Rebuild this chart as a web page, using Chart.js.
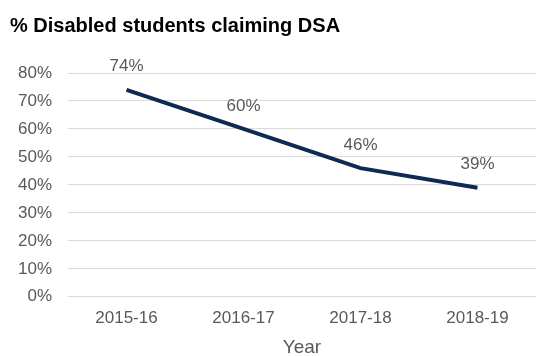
<!DOCTYPE html>
<html>
<head>
<meta charset="utf-8">
<script src="https://cdn.jsdelivr.net/npm/chart.js@4/dist/chart.umd.min.js"></script>
<style>
  html, body { margin: 0; padding: 0; background: #fff; }
  #wrap { width: 536px; height: 356px; }
</style>
</head>
<body>
<div id="wrap"><canvas id="dsaChart" width="536" height="356"></canvas></div>
<script>
// Datos del gráfico
const years = ['2015-16', '2016-17', '2017-18', '2018-19'];
const dsaShare = [74, 60, 46, 39];
const yTicks = [0, 10, 20, 30, 40, 50, 60, 70, 80];

const grey = '#595959';
const fontFamily = '"Liberation Sans", Arial, sans-serif';

// Etiquetas de valor encima de cada punto
const valueLabels = {
    id: 'valueLabels',
    afterDatasetsDraw(chart) {
        const ctx = chart.ctx;
        const meta = chart.getDatasetMeta(0);
        ctx.save();
        ctx.font = '17px ' + fontFamily;
        ctx.fillStyle = grey;
        ctx.textAlign = 'center';
        ctx.textBaseline = 'middle';
        meta.data.forEach((pt, i) => {
            ctx.fillText(dsaShare[i] + '%', pt.x, pt.y - 23);
        });
        ctx.restore();
    }
};

new Chart(document.getElementById('dsaChart'), {
    type: 'line',
    data: {
        labels: years,
        datasets: [{
            data: dsaShare,
            borderColor: '#0c2a53',
            borderWidth: 4,
            pointRadius: 0,
            tension: 0,
            fill: false
        }]
    },
    options: {
        responsive: false,
        animation: false,
        layout: { padding: { left: 10, right: 0, top: 0, bottom: -3 } },
        plugins: {
            legend: { display: false },
            tooltip: { enabled: false },
            title: {
                display: true,
                text: '% Disabled students claiming DSA',
                align: 'start',
                color: '#000',
                font: { family: fontFamily, size: 20, weight: 'bold' },
                padding: { top: 14, bottom: 35 }
            }
        },
        scales: {
            x: {
                offset: true,
                grid: { display: false, drawTicks: false },
                border: { display: false },
                ticks: {
                    color: grey,
                    font: { family: fontFamily, size: 17 },
                    padding: 11,
                    maxRotation: 0
                },
                title: {
                    display: true,
                    text: 'Year',
                    color: grey,
                    font: { family: fontFamily, size: 19 },
                    padding: { top: -3, bottom: 0 }
                }
            },
            y: {
                min: 0,
                max: 80,
                afterFit(scale) { scale.width = 58; },
                afterBuildTicks(scale) {
                    scale.ticks = yTicks.map(v => ({ value: v }));
                },
                grid: { color: '#d9d9d9', lineWidth: 1, drawTicks: false },
                border: { display: false },
                ticks: {
                    color: grey,
                    font: { family: fontFamily, size: 17 },
                    padding: 16,
                    callback: v => v + '%'
                }
            }
        }
    },
    plugins: [valueLabels]
});
</script>
</body>
</html>
